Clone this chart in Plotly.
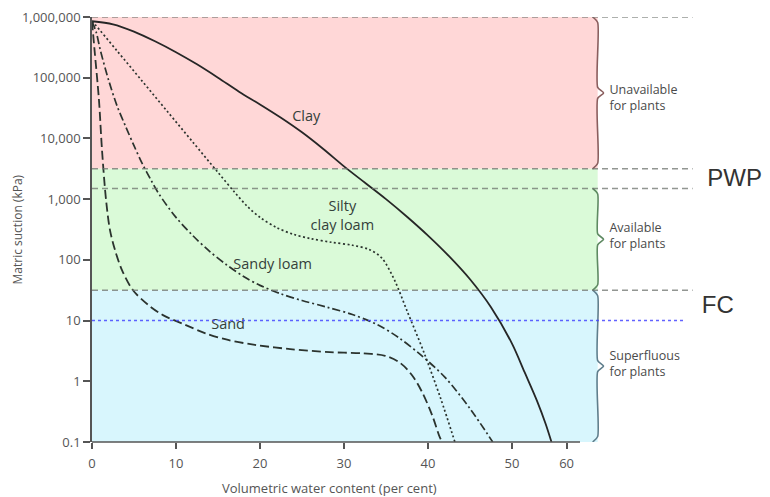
import plotly.graph_objects as go
import numpy as np

# ---- data ----
clay_x = [0, 2.5, 5, 7.5, 10, 12.5, 15, 17.5, 20, 22.5, 25, 27.5, 30, 32.5, 35, 37.5, 40, 42.5, 45, 47.5, 50, 51.5, 53, 54, 54.7]
clay_y = [851000, 759000, 575000, 398000, 263000, 166000, 100000, 58900, 36300, 21900, 12600, 6760, 3470,
          1860, 1000, 513, 251, 115, 47.9, 16.6, 4.17, 1.41, 0.468, 0.2, 0.1]

scl_x = [0, 0.4, 3, 6, 9, 12, 15, 17, 18.5, 20, 22, 24, 26, 28.5, 31, 33, 34.5, 36, 37.5, 39.5, 41.5, 43.2]
scl_y = [851000, 741000, 275000, 87100, 27500, 8710, 2750, 1290, 759, 501, 339, 263, 224, 195, 174, 148, 107,
         46.8, 14.5, 3.02, 0.525, 0.1]

sl_x = [0, 0.5, 1, 2, 3, 4, 5, 6, 7, 8, 10, 12, 14, 16, 18, 20, 22.5, 25, 28, 31, 34, 36.5, 39, 42, 45, 47.7]
sl_y = [851000, 562000, 282000, 89100, 33900, 15800, 7590, 3800, 2090, 1200, 501, 251, 138, 83.2, 53.7, 38.0,
        27.5, 21.4, 16.6, 12.6, 8.51, 5.25, 2.82, 1.17, 0.355, 0.1]

sand_x = [0, 0.3, 0.83, 1.19, 1.67, 2.14, 2.74, 3.57, 4.88, 6.67, 8.45, 11.1, 13.5, 16.2, 19.4, 23.6, 28.3,
          32.3, 34.9, 36.7, 38.1, 39.3, 40.5, 41.4, 41.7]
sand_y = [851000, 288000, 42700, 6460, 977, 309, 145, 67.6, 31.6, 18.2, 12.3, 8.51, 6.17, 4.79, 3.98, 3.39,
          3.02, 2.88, 2.63, 2.0, 1.26, 0.661, 0.275, 0.12, 0.1]

y_tickvals = [0.1, 1, 10, 100, 1000, 10000, 100000, 1000000]
y_ticktext = ["0.1", "1", "10", "100", "1,000", "10,000", "100,000", "1,000,000"]
x_tickvals = [0, 10, 20, 30, 40, 50, 56.5]
x_ticktext = ["0", "10", "20", "30", "40", "50", "60"]

# zone limits (kPa)
zone_top = 1000000
zone_unavail = 3162
pwp = 1500
fc = 31.6
fc_blue = 10
zone_bottom = 0.1

line_col = "#2b332e"
txt_col = "#34403a"
axis_col = "#555555"
font_main = "Open Sans"

fig = go.Figure()

# coloured zones
zones = [(zone_unavail, zone_top, "#FFD7D7"),
         (fc, zone_unavail, "#DAFAD8"),
         (zone_bottom, fc, "#D8F6FD")]
for y0, y1, col in zones:
    fig.add_shape(type="rect", xref="x", yref="y", x0=0, x1=60.2, y0=y0, y1=y1,
                  fillcolor=col, line_width=0, layer="below")

# curves
spl = dict(shape="spline", smoothing=0.9)
fig.add_trace(go.Scatter(x=clay_x, y=clay_y, mode="lines", line=dict(color="#262626", width=1.8, **spl)))
fig.add_trace(go.Scatter(x=scl_x, y=scl_y, mode="lines", line=dict(color=line_col, width=1.7, dash="2px,2.5px", **spl)))
fig.add_trace(go.Scatter(x=sl_x, y=sl_y, mode="lines", line=dict(color=line_col, width=1.7, dash="8px,3px,2px,3px", **spl)))
fig.add_trace(go.Scatter(x=sand_x, y=sand_y, mode="lines", line=dict(color=line_col, width=1.8, dash="9px,4px", **spl)))

# dashed boundary lines
for yv in [zone_top, zone_unavail, pwp, fc]:
    fig.add_shape(type="line", xref="x", yref="y", x0=0, x1=71.5, y0=yv, y1=yv,
                  line=dict(color="rgba(110,115,110,0.75)", width=1.6, dash="6px,4px"))
fig.add_shape(type="line", xref="x", yref="y", x0=0, x1=70.4, y0=fc_blue, y1=fc_blue,
              line=dict(color="rgba(70,70,255,0.85)", width=1.5, dash="3px,3px"))

# x axis line (shorter than plotting region)
fig.add_shape(type="line", xref="x", yref="paper", x0=0, x1=58.1, y0=0, y1=0,
              line=dict(color=axis_col, width=1.5))

# braces
def brace(y0, y1, xb=60.2, tip=0.7, curl=0.6):
    l0, l1 = np.log10(y0), np.log10(y1)
    lm = (l0 + l1) / 2
    d = 0.09
    ls = [l1, l1 - d, lm + d, lm, lm - d, l0 + d, l0]
    xs = [xb - curl, xb, xb, xb + tip, xb, xb, xb - curl]
    return xs, [10 ** v for v in ls]

for (y0, y1, col) in [(zone_unavail, zone_top, "#8a5e5e"), (fc, pwp, "#5e8a62"), (zone_bottom, fc, "#5f7e8c")]:
    bx, by = brace(y0, y1)
    fig.add_trace(go.Scatter(x=bx, y=by, mode="lines", cliponaxis=False,
                             line=dict(color=col, width=1.6, shape="spline", smoothing=0.6)))

# in-plot labels
labels = [(25.5, 22500, "Clay"), (29.8, 507, "Silty<br>clay loam"), (21.5, 82, "Sandy loam"), (16.2, 8.4, "Sand")]
for lx, ly, t in labels:
    fig.add_trace(go.Scatter(x=[lx], y=[ly], mode="text", text=[t], textposition="middle center",
                             cliponaxis=False, textfont=dict(family=font_main, size=14.5, color=txt_col)))

# right-side labels
side = [(61.6, 44700, "Unavailable<br>for plants"), (61.6, 238, "Available<br>for plants"), (61.6, 1.85, "Superfluous<br>for plants")]
for lx, ly, t in side:
    fig.add_trace(go.Scatter(x=[lx], y=[ly], mode="text", text=[t], textposition="middle right",
                             cliponaxis=False, textfont=dict(family=font_main, size=12.5, color="#4a4a4a")))

for lx, ly, t in [(76.5, 2065, "PWP"), (74.5, 16.7, "FC")]:
    fig.add_trace(go.Scatter(x=[lx], y=[ly], mode="text", text=[t], textposition="middle center",
                             cliponaxis=False, textfont=dict(family="Liberation Sans", size=24, color="#333333")))

# axis titles
fig.add_annotation(xref="paper", yref="paper", x=0, y=0.5, xshift=-75, xanchor="center", yanchor="middle",
                   text="Matric suction (kPa)", textangle=-90, showarrow=False,
                   font=dict(family=font_main, size=12, color=axis_col))
fig.add_annotation(xref="x", yref="paper", x=28.3, y=0, yshift=-46, xanchor="center", yanchor="middle",
                   text="Volumetric water content (per cent)", showarrow=False,
                   font=dict(family=font_main, size=13, color=axis_col))

# page has an 8px body margin, so the figure is sized to fit the 770x497 window
fig.update_layout(
    width=762, height=489,
    margin=dict(l=84, r=6, t=9, b=55),
    paper_bgcolor="white", plot_bgcolor="white",
    showlegend=False, hovermode=False,
    xaxis=dict(range=[0, 80], tickvals=x_tickvals, ticktext=x_ticktext, showgrid=False, zeroline=False,
               automargin=False, showline=False, ticks="outside", ticklen=6, tickwidth=1.5, tickcolor=axis_col,
               ticklabelstandoff=3, ticklabeloverflow="allow",
               tickfont=dict(family=font_main, size=13, color=axis_col)),
    yaxis=dict(type="log", range=[-1, 6], tickvals=y_tickvals, ticktext=y_ticktext, showgrid=False,
               automargin=False, zeroline=False, showline=True, linecolor=axis_col, linewidth=1.5,
               ticks="outside", ticklen=7, tickwidth=1.5, tickcolor=axis_col, ticklabeloverflow="allow",
               tickfont=dict(family=font_main, size=13, color=axis_col)),
)

fig.write_html("out.html")
